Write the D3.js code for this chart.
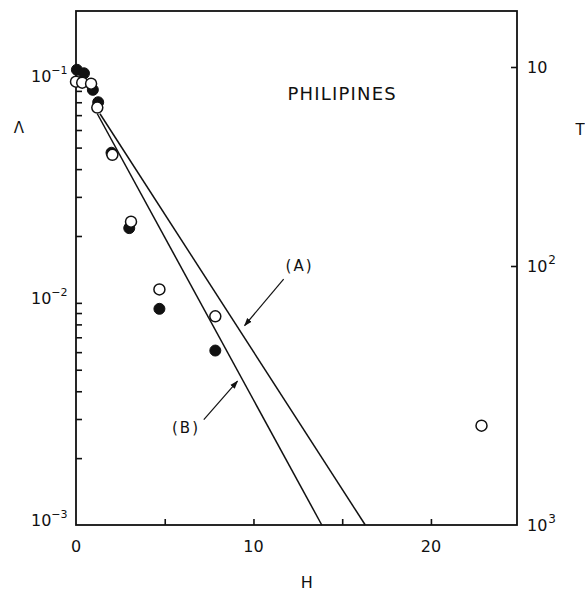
<!DOCTYPE html>
<html><head><meta charset="utf-8">
<script src="https://cdn.jsdelivr.net/npm/d3@7"></script>
<style>body{margin:0;background:#fff}svg{display:block}</style>
</head><body>
<script>
// ---- data ----
const filledH = [0.05, 0.45, 0.95, 1.25, 2.0, 3.0, 4.7, 7.85];
const filledA = [0.112, 0.108, 0.091, 0.080, 0.0474, 0.0217, 0.0094, 0.0061];
const openH = [0, 0.35, 0.85, 1.2, 2.05, 3.1, 4.7, 7.85, 22.85];
const openA = [0.099, 0.098, 0.097, 0.0757, 0.0464, 0.0232, 0.0115, 0.0087, 0.0028];
const lineAH = [1.35, 16.3], lineAA = [0.071, 0.001];
const lineBH = [1.2, 13.85], lineBA = [0.071, 0.001];
const xLabelTicks = [0, 10, 20];
const xMinorTicks = [5, 10, 15, 20];
const yMajor = [1e-1, 1e-2, 1e-3];
const yExp = ["1", "2", "3"];
const tTicks = [10, 100, 1000];
const tLabels = [["10", ""], ["10", "2"], ["10", "3"]];

const W = 585, Hh = 593;
const m = {l: 76, t: 11};
const pw = 441, ph = 514;
const font = "DejaVu Sans, sans-serif";

const svg = d3.select("body").append("svg").attr("width", W).attr("height", Hh);
const g = svg.append("g").attr("transform", `translate(${m.l},${m.t})`);

const x = d3.scaleLinear().domain([0, 24.85]).range([0, pw]);
const y = d3.scaleLog().domain([0.001, 0.206]).range([ph, 0]);
const tS = d3.scaleLog().domain([10, 100, 1000]).range([56, 255, 514]);

// frame
g.append("rect").attr("x", 0).attr("y", 0).attr("width", pw).attr("height", ph)
  .attr("fill", "none").attr("stroke", "#111").attr("stroke-width", 1.8);

// left ticks
const yTickVals = [];
[1e-3, 1e-2].forEach(d => { for (let k = 2; k <= 9; k++) yTickVals.push(d * k); });
yTickVals.push(1e-2, 1e-1);
const yAx = g.append("g").call(d3.axisLeft(y).tickValues(yTickVals).tickSizeInner(-6).tickSizeOuter(0).tickFormat(""));
yAx.select(".domain").remove();
yAx.selectAll("line").attr("stroke", "#111").attr("stroke-width", 1.6);

// bottom ticks
const xAx = g.append("g").attr("transform", `translate(0,${ph})`)
  .call(d3.axisBottom(x).tickValues(xMinorTicks).tickSizeInner(-6).tickSizeOuter(0).tickFormat(""));
xAx.select(".domain").remove();
xAx.selectAll("line").attr("stroke", "#111").attr("stroke-width", 1.6);

// right ticks
const tAx = g.append("g").attr("transform", `translate(${pw},0)`)
  .call(d3.axisRight(tS).tickValues([10, 100]).tickSizeInner(-6).tickSizeOuter(0).tickFormat(""));
tAx.select(".domain").remove();
tAx.selectAll("line").attr("stroke", "#111").attr("stroke-width", 1.6);

// x labels
g.selectAll(".xl").data(xLabelTicks).enter().append("text")
  .attr("x", d => x(d)).attr("y", ph + 27).attr("text-anchor", "middle")
  .attr("font-family", font).attr("font-size", 16).attr("fill", "#111").text(d => d);

// left y labels
yMajor.forEach((v, i) => {
  const t = g.append("text").attr("x", -45).attr("y", y(v) + 1)
    .attr("font-family", font).attr("font-size", 16).attr("fill", "#111");
  t.append("tspan").text("10");
  t.append("tspan").attr("dx", 0).attr("dy", -8).attr("font-size", 11).text("\u2212" + yExp[i]);
});

// right T labels
tTicks.forEach((v, i) => {
  const t = g.append("text").attr("x", pw + 10).attr("y", tS(v) + 6)
    .attr("font-family", font).attr("font-size", 16).attr("fill", "#111");
  t.append("tspan").text(tLabels[i][0]);
  if (tLabels[i][1]) t.append("tspan").attr("dx", 1).attr("dy", -8).attr("font-size", 12).text(tLabels[i][1]);
});

// axis titles
svg.append("text").attr("x", 19).attr("y", 133).attr("text-anchor", "middle")
  .attr("font-family", font).attr("font-size", 15).attr("fill", "#111").text("\u039B");
svg.append("text").attr("x", 580).attr("y", 135).attr("text-anchor", "middle")
  .attr("font-family", font).attr("font-size", 15).attr("fill", "#111").text("T");
svg.append("text").attr("x", m.l + x(13)).attr("y", 588).attr("text-anchor", "middle")
  .attr("font-family", font).attr("font-size", 16).attr("fill", "#111").text("H");

// title
g.append("text").attr("x", x(15.0)).attr("y", y(0.0815)).attr("text-anchor", "middle")
  .attr("font-family", font).attr("font-size", 18).attr("letter-spacing", 1.2).attr("fill", "#111").text("PHILIPINES");

// lines
const line = d3.line().x(d => x(d[0])).y(d => y(d[1]));
[[lineAH, lineAA], [lineBH, lineBA]].forEach(([hs, as]) => {
  g.append("path").datum(hs.map((h, i) => [h, as[i]])).attr("d", line)
    .attr("fill", "none").attr("stroke", "#111").attr("stroke-width", 1.5);
});

// arrow marker
svg.append("defs").append("marker").attr("id", "arr").attr("viewBox", "0 0 10 10")
  .attr("refX", 9).attr("refY", 5).attr("markerWidth", 7).attr("markerHeight", 7)
  .attr("orient", "auto").append("path").attr("d", "M0,1.5 L10,5 L0,8.5 Z").attr("fill", "#111");

// annotations
g.append("text").attr("x", x(12.6)).attr("y", y(0.0147) + 5).attr("text-anchor", "middle")
  .attr("font-family", font).attr("font-size", 15).attr("fill", "#111").attr("letter-spacing", 2).text("(A)");
g.append("line").attr("x1", x(11.7)).attr("y1", y(0.0128)).attr("x2", x(9.5)).attr("y2", y(0.0079))
  .attr("stroke", "#111").attr("stroke-width", 1.2).attr("marker-end", "url(#arr)");
g.append("text").attr("x", x(6.2)).attr("y", y(0.00274) + 5).attr("text-anchor", "middle")
  .attr("font-family", font).attr("font-size", 15).attr("fill", "#111").attr("letter-spacing", 2).text("(B)");
g.append("line").attr("x1", x(7.2)).attr("y1", y(0.00298)).attr("x2", x(9.1)).attr("y2", y(0.00444))
  .attr("stroke", "#111").attr("stroke-width", 1.2).attr("marker-end", "url(#arr)");

// points
g.selectAll(".f").data(filledH.map((h, i) => [h, filledA[i]])).enter().append("circle")
  .attr("cx", d => x(d[0])).attr("cy", d => y(d[1])).attr("r", 5.5)
  .attr("fill", "#111").attr("stroke", "#111").attr("stroke-width", 1);
g.selectAll(".o").data(openH.map((h, i) => [h, openA[i]])).enter().append("circle")
  .attr("cx", d => x(d[0])).attr("cy", d => y(d[1])).attr("r", 5.5)
  .attr("fill", "#fff").attr("stroke", "#111").attr("stroke-width", 1.5);
</script>
</body></html>
